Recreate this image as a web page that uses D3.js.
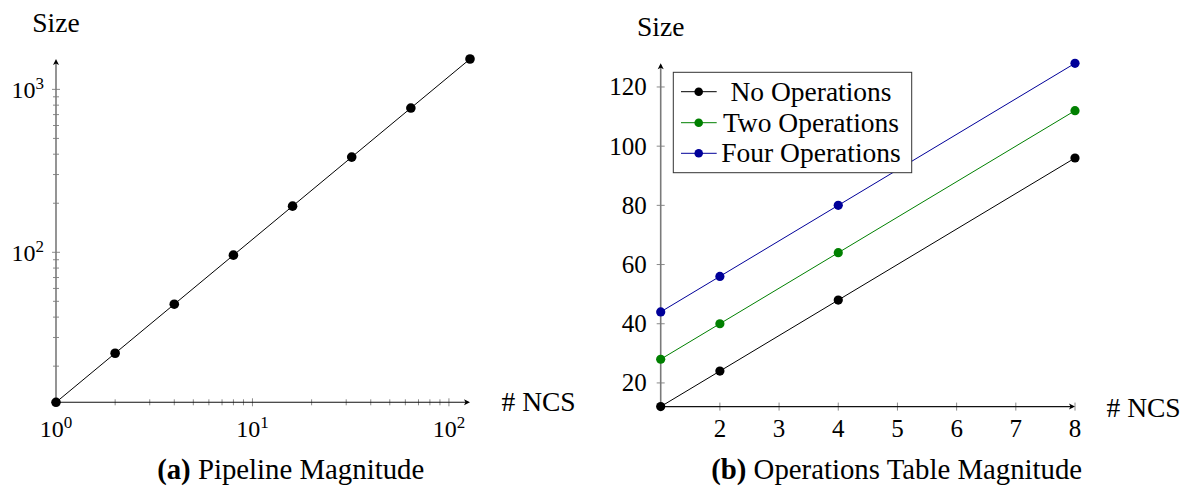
<!DOCTYPE html>
<html>
<head>
<meta charset="utf-8">
<script src="https://cdn.jsdelivr.net/npm/d3@7"></script>
<style>
  html, body { margin: 0; padding: 0; background: #fff; }
  svg { display: block; }
  text { font-family: "Liberation Serif", serif; fill: #000; }
</style>
</head>
<body>
<svg id="chart" width="1184" height="487"></svg>
<script>
// ---------- data ----------
const pipelineNCS   = [1, 2, 4, 8, 16, 32, 64, 128];
const pipelineSize  = [12, 24, 48, 96, 192, 384, 768, 1536];

const opsNCS        = [1, 2, 4, 8];
const noOperations  = [12, 24, 48, 96];
const twoOperations = [28, 40, 64, 112];
const fourOperations= [44, 56, 80, 128];

const seriesNames   = ["No Operations", "Two Operations", "Four Operations"];
const seriesColors  = ["#000000", "#008000", "#000099"];

const leftXTickExp  = [0, 1, 2];
const leftYTickExp  = [2, 3];
const rightXTicks   = [2, 3, 4, 5, 6, 7, 8];
const rightYTicks   = [20, 40, 60, 80, 100, 120];

const captionA = ["(a)", "Pipeline Magnitude"];
const captionB = ["(b)", "Operations Table Magnitude"];

// ---------- helpers ----------
const svg = d3.select("#chart");
const AXIS_GRAY = "#7a7a7a";
const TICK_GRAY = "#8a8a8a";

function arrowHead(g, x, y, dir) {
  const L = 6, W = 3, N = 1.5;
  let p;
  if (dir === "up") p = `M${x},${y} L${x - W},${y + L} L${x},${y + L - N} L${x + W},${y + L} Z`;
  else p = `M${x},${y} L${x - L},${y - W} L${x - L + N},${y} L${x - L},${y + W} Z`;
  g.append("path").attr("d", p).attr("fill", "#000");
}

function powLabel(g, x, y, exp, anchor, baseSize, supSize) {
  const t = g.append("text").attr("x", x).attr("y", y)
    .attr("text-anchor", anchor).style("font-size", baseSize + "px");
  t.append("tspan").text("10");
  t.append("tspan").attr("dy", -9).style("font-size", supSize + "px").text(String(exp));
  return t;
}

// ---------- chart (a): log-log ----------
{
  const g = svg.append("g");
  const x = d3.scaleLog().domain([1, 128]).range([56, 470]);
  const y = d3.scaleLog().domain([12, 1536]).range([402.3, 59]);

  const yMinor = [];
  [1, 2, 3].forEach(e => { for (let m = 1; m <= 9; m++) { const v = m * Math.pow(10, e); if (v > 12 && v <= 1536) yMinor.push(v); } });
  g.selectAll(".ytk").data(yMinor).enter().append("line")
    .attr("x1", d => x(1) - ((Math.log10(d) % 1 === 0) ? 4 : 3))
    .attr("x2", d => x(1) + ((Math.log10(d) % 1 === 0) ? 4 : 3))
    .attr("y1", d => y(d)).attr("y2", d => y(d))
    .attr("stroke", TICK_GRAY).attr("stroke-width", 1);

  const xMinor = [];
  [0, 1, 2].forEach(e => { for (let m = 1; m <= 9; m++) { const v = m * Math.pow(10, e); if (v > 1 && v <= 128) xMinor.push(v); } });
  g.selectAll(".xtk").data(xMinor).enter().append("line")
    .attr("x1", d => x(d)).attr("x2", d => x(d))
    .attr("y1", d => y(12) - ((Math.log10(d) % 1 === 0) ? 4 : 3))
    .attr("y2", d => y(12) + ((Math.log10(d) % 1 === 0) ? 4 : 3))
    .attr("stroke", TICK_GRAY).attr("stroke-width", 1);

  g.append("line").attr("x1", x(1)).attr("x2", x(1)).attr("y1", y(12)).attr("y2", y(1536) + 2)
    .attr("stroke", AXIS_GRAY).attr("stroke-width", 1.6);
  arrowHead(g, x(1), y(1536), "up");
  g.append("line").attr("x1", x(1)).attr("x2", x(128) - 2).attr("y1", y(12)).attr("y2", y(12))
    .attr("stroke", "#111").attr("stroke-width", 1.1);
  arrowHead(g, x(128), y(12), "right");

  leftXTickExp.forEach(e => powLabel(g, x(Math.pow(10, e)), 436.5, e, "middle", 24, 17));
  leftYTickExp.forEach(e => powLabel(g, 44, y(Math.pow(10, e)) + 8.5, e, "end", 24, 17));

  const pts = pipelineNCS.map((d, i) => [d, pipelineSize[i]]);
  g.append("path").datum(pts)
    .attr("d", d3.line().x(d => x(d[0])).y(d => y(d[1])))
    .attr("fill", "none").attr("stroke", "#000").attr("stroke-width", 1);
  g.selectAll(".dot").data(pts).enter().append("circle")
    .attr("cx", d => x(d[0])).attr("cy", d => y(d[1])).attr("r", 4.8).attr("fill", "#000");

  g.append("text").attr("x", x(1)).attr("y", 32.3).attr("text-anchor", "middle")
    .style("font-size", "27.5px").text("Size");
  g.append("text").attr("x", 501.5).attr("y", 411).style("font-size", "27.5px").text("# NCS");

  const c = g.append("text").attr("x", 290.7).attr("y", 479.3).attr("text-anchor", "middle")
    .style("font-size", "28.8px");
  c.append("tspan").style("font-weight", "bold").text(captionA[0]);
  c.append("tspan").text(" " + captionA[1]);
}

// ---------- chart (b): linear ----------
{
  const g = svg.append("g");
  const x = d3.scaleLinear().domain([1, 8]).range([660.7, 1075]);
  const y = d3.scaleLinear().domain([12, 128]).range([406.6, 63.3]);

  g.selectAll(".ytk").data(rightYTicks).enter().append("line")
    .attr("x1", x(1) - 4).attr("x2", x(1) + 4)
    .attr("y1", d => y(d)).attr("y2", d => y(d))
    .attr("stroke", TICK_GRAY).attr("stroke-width", 1);
  g.selectAll(".xtk").data(rightXTicks).enter().append("line")
    .attr("x1", d => x(d)).attr("x2", d => x(d))
    .attr("y1", y(12) - 4).attr("y2", y(12) + 4)
    .attr("stroke", TICK_GRAY).attr("stroke-width", 1);

  g.append("line").attr("x1", x(1)).attr("x2", x(1)).attr("y1", y(12)).attr("y2", y(128) + 2)
    .attr("stroke", AXIS_GRAY).attr("stroke-width", 1.6);
  arrowHead(g, x(1), y(128), "up");
  g.append("line").attr("x1", x(1)).attr("x2", x(8) - 2).attr("y1", y(12)).attr("y2", y(12))
    .attr("stroke", "#111").attr("stroke-width", 1.1);
  arrowHead(g, x(8), y(12), "right");

  g.selectAll(".xl").data(rightXTicks).enter().append("text")
    .attr("x", d => x(d)).attr("y", 436.5).attr("text-anchor", "middle")
    .style("font-size", "25px").text(d => d);
  g.selectAll(".yl").data(rightYTicks).enter().append("text")
    .attr("x", 646.8).attr("y", d => y(d) + 8.5).attr("text-anchor", "end")
    .style("font-size", "25px").text(d => d);

  const allSeries = [noOperations, twoOperations, fourOperations];
  allSeries.forEach((vals, si) => {
    const pts = opsNCS.map((d, i) => [d, vals[i]]);
    g.append("path").datum(pts)
      .attr("d", d3.line().x(d => x(d[0])).y(d => y(d[1])))
      .attr("fill", "none").attr("stroke", seriesColors[si]).attr("stroke-width", 1);
    g.selectAll(".dot" + si).data(pts).enter().append("circle")
      .attr("cx", d => x(d[0])).attr("cy", d => y(d[1])).attr("r", 4.6)
      .attr("fill", seriesColors[si]);
  });

  const lg = g.append("g");
  lg.append("rect").attr("x", 673.3).attr("y", 72.3).attr("width", 238.4).attr("height", 100.4)
    .attr("fill", "#fff").attr("stroke", "#333").attr("stroke-width", 1);
  const rowY = [91.7, 122.7, 153.3];
  seriesNames.forEach((name, i) => {
    lg.append("line").attr("x1", 681).attr("x2", 716.7).attr("y1", rowY[i]).attr("y2", rowY[i])
      .attr("stroke", seriesColors[i]).attr("stroke-width", 1);
    lg.append("circle").attr("cx", 698.7).attr("cy", rowY[i]).attr("r", 4.3).attr("fill", seriesColors[i]);
    lg.append("text").attr("x", 811).attr("y", rowY[i] + 9).attr("text-anchor", "middle")
      .style("font-size", "27.5px").text(name);
  });

  g.append("text").attr("x", x(1)).attr("y", 36).attr("text-anchor", "middle")
    .style("font-size", "27.5px").text("Size");
  g.append("text").attr("x", 1106.5).attr("y", 417).style("font-size", "27.5px").text("# NCS");

  const c = g.append("text").attr("x", 896.7).attr("y", 479.3).attr("text-anchor", "middle")
    .style("font-size", "28.8px");
  c.append("tspan").style("font-weight", "bold").text(captionB[0]);
  c.append("tspan").text(" " + captionB[1]);
}
</script>
</body>
</html>
